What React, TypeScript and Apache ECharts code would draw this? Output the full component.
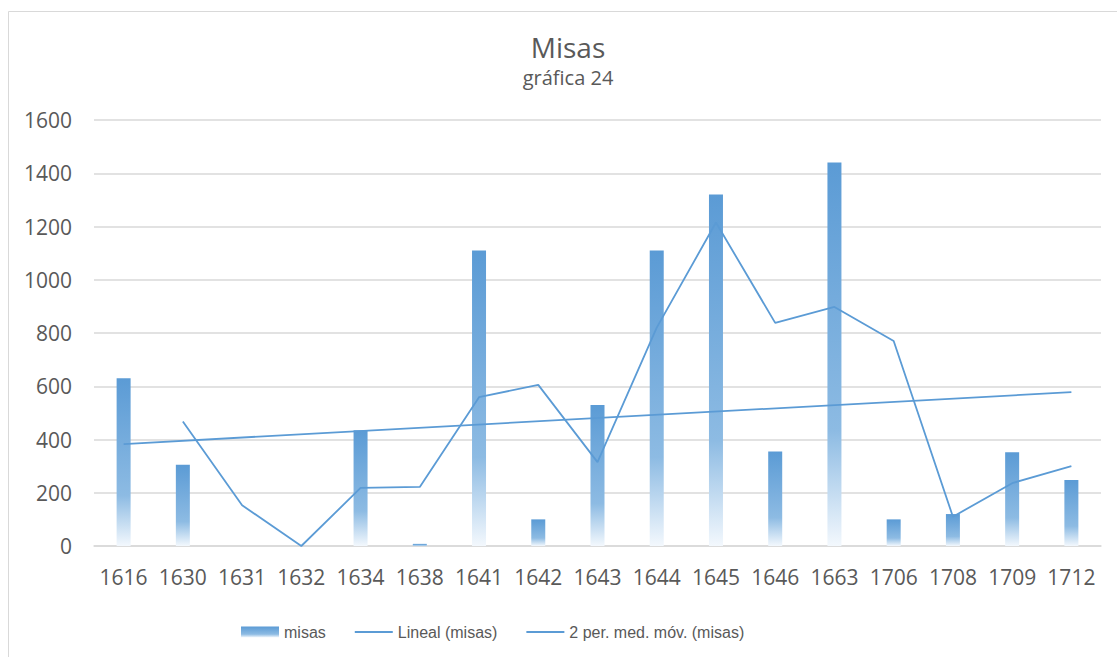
import React, { useEffect, useRef } from "react";
import * as echarts from "echarts";

const years = ["1616","1630","1631","1632","1634","1638","1641","1642","1643","1644","1645","1646","1663","1706","1708","1709","1712"];
const misas = [630, 305, 0, 0, 435, 8, 1110, 100, 530, 1110, 1320, 355, 1440, 100, 120, 352, 248];
const lineal = [383, null, null, null, null, null, null, null, null, null, null, null, null, null, null, null, 578];
const mediaMovil = [null, 468, 153, 0, 218, 222, 559, 605, 315, 820, 1215, 838, 898, 770, 110, 236, 300];
const yTicks = { min: 0, max: 1600, interval: 200 };

const BLUE = "#5b9bd5";
const GREY_TEXT = "#595959";
const FONT = "'Open Sans', Roboto, sans-serif";

export default function App() {
  const ref = useRef<HTMLDivElement>(null);
  useEffect(() => {
    if (!ref.current) return;
    const chart = echarts.init(ref.current, null, { renderer: "svg" });
    const barGradient = new echarts.graphic.LinearGradient(0, 0, 0, 1, [
      { offset: 0, color: "#5b9bd5" },
      { offset: 0.7, color: "#8dbbe3" },
      { offset: 1, color: "#f3f8fd" },
    ]);
    chart.setOption({
      animation: false,
      backgroundColor: "#ffffff",
      title: [
        {
          text: "Misas",
          left: 563,
          top: 28,
          textAlign: "center",
          textStyle: { fontFamily: FONT, fontSize: 28, fontWeight: "normal", color: GREY_TEXT },
        },
        {
          text: "gráfica 24",
          left: 563,
          top: 62,
          textAlign: "center",
          textStyle: { fontFamily: FONT, fontSize: 20, fontWeight: "normal", color: GREY_TEXT },
        },
      ],
      graphic: [
        {
          type: "rect",
          shape: { x: 8.5, y: 11.5, width: 1200, height: 700 },
          style: { fill: "none", stroke: "#d9d9d9", lineWidth: 1 },
          silent: true,
        },
      ],
      legend: {
        left: 236,
        top: 619,
        itemWidth: 38,
        itemHeight: 11,
        itemGap: 28,
        textStyle: { fontFamily: "'Liberation Sans', Arial, sans-serif", fontSize: 16, color: GREY_TEXT },
        data: [
          { name: "misas", icon: "rect" },
          { name: "Lineal (misas)", itemStyle: { opacity: 0 } },
          { name: "2 per. med. móv. (misas)", itemStyle: { opacity: 0 } },
        ],
      },
      grid: { left: 94, right: 16, top: 120, bottom: 111, containLabel: false },
      xAxis: {
        type: "category",
        data: years,
        axisLine: { lineStyle: { color: "#d9d9d9", width: 1.5 } },
        axisTick: { show: false },
        axisLabel: { color: GREY_TEXT, fontSize: 21, fontFamily: FONT, margin: 20, interval: 0 },
      },
      yAxis: {
        type: "value",
        min: yTicks.min,
        max: yTicks.max,
        interval: yTicks.interval,
        axisLine: { show: false },
        axisTick: { show: false },
        splitLine: { lineStyle: { color: "#d9d9d9", width: 1.5 } },
        axisLabel: { color: GREY_TEXT, fontSize: 21, fontFamily: FONT, margin: 22, formatter: (v: number) => String(v) },
      },
      series: [
        {
          name: "misas",
          type: "bar",
          data: misas,
          barWidth: 14,
          itemStyle: { color: barGradient },
        },
        {
          name: "Lineal (misas)",
          type: "line",
          data: lineal,
          connectNulls: true,
          symbol: "none",
          lineStyle: { color: BLUE, width: 1.8 },
          itemStyle: { color: BLUE },
        },
        {
          name: "2 per. med. móv. (misas)",
          type: "line",
          data: mediaMovil,
          symbol: "none",
          lineStyle: { color: BLUE, width: 1.8 },
          itemStyle: { color: BLUE },
        },
      ],
    });
    return () => chart.dispose();
  }, []);
  return (
    <div
      ref={ref}
      style={{ position: "absolute", left: 0, top: 0, width: 1117, height: 657 }}
    />
  );
}
